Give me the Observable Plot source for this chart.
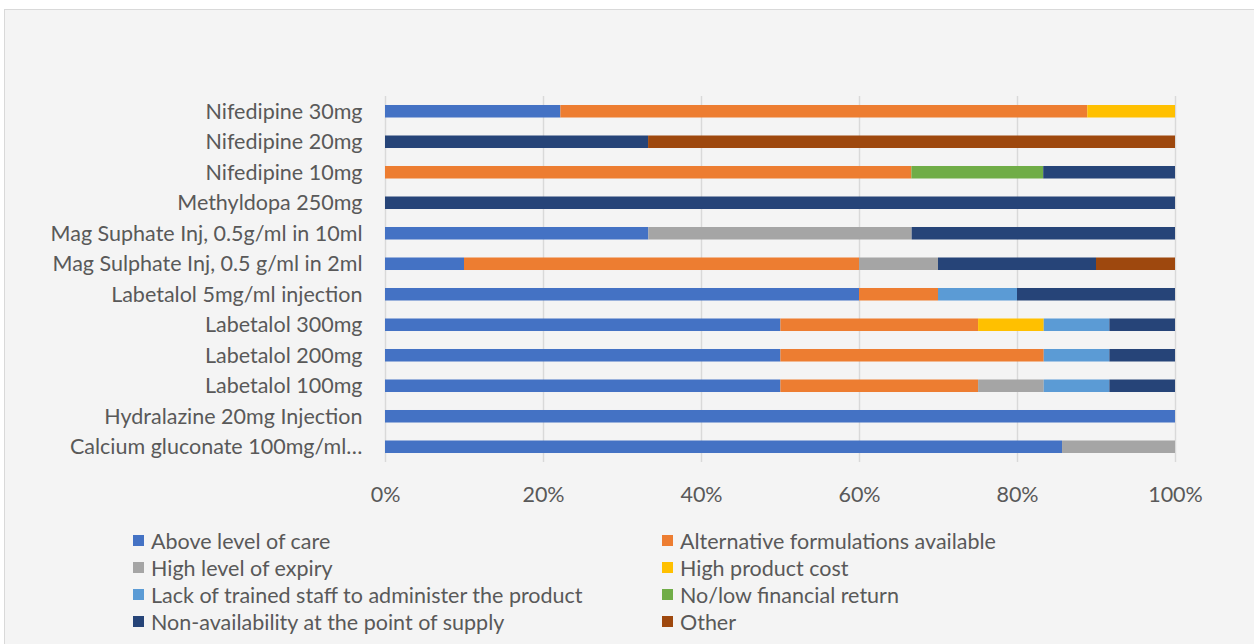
<!DOCTYPE html>
<html>
<head>
<meta charset="utf-8">
<script src="https://cdn.jsdelivr.net/npm/d3@7"></script>
<script src="https://cdn.jsdelivr.net/npm/@observablehq/plot@0.6"></script>
<style>
  html, body { margin: 0; padding: 0; background: #ffffff; }
  body { width: 1254px; height: 644px; overflow: hidden; position: relative; font-family: Lato, "Open Sans", sans-serif; }
  #panel { position: absolute; left: 4px; top: 9px; width: 1300px; height: 700px; background: #f4f4f4; border: 1px solid #d9d9d9; box-sizing: border-box; }
  #chart { position: absolute; left: 0; top: 0; }
  #legend { position: absolute; left: 133px; top: 527px; display: grid; grid-template-columns: 529px auto; grid-auto-rows: 27px; color: #595959; font-size: 21.5px; }
  .item { display: flex; align-items: center; white-space: nowrap; }
  .sw { width: 11px; height: 11px; margin-right: 7px; flex: none; }
</style>
</head>
<body>
<div id="panel"></div>
<div id="chart"></div>
<div id="legend"></div>
<script>
// Medicines, listed top to bottom
const categories = [
  "Nifedipine 30mg",
  "Nifedipine 20mg",
  "Nifedipine 10mg",
  "Methyldopa 250mg",
  "Mag Suphate Inj, 0.5g/ml in 10ml",
  "Mag Sulphate Inj, 0.5 g/ml in 2ml",
  "Labetalol 5mg/ml injection",
  "Labetalol 300mg",
  "Labetalol 200mg",
  "Labetalol 100mg",
  "Hydralazine 20mg Injection",
  "Calcium gluconate 100mg/ml…"
];

// Reasons (series) and their colours
const reasons = [
  "Above level of care",
  "Alternative formulations available",
  "High level of expiry",
  "High product cost",
  "Lack of trained staff to administer the product",
  "No/low financial return",
  "Non-availability at the point of supply",
  "Other"
];
const colors = ["#4472C4", "#ED7D31", "#A5A5A5", "#FFC000", "#5B9BD5", "#70AD47", "#264478", "#9E480E"];

// Share (%) of each reason per medicine, in category order
const aboveLevel   = [22.2, 0, 0, 0, 33.3, 10, 60, 50, 50, 50, 100, 85.7];
const alternatives = [66.7, 0, 66.7, 0, 0, 50, 10, 25, 33.3, 25, 0, 0];
const expiry       = [0, 0, 0, 0, 33.3, 10, 0, 0, 0, 8.3, 0, 14.3];
const productCost  = [11.1, 0, 0, 0, 0, 0, 0, 8.3, 0, 0, 0, 0];
const lackStaff    = [0, 0, 0, 0, 0, 0, 10, 8.3, 8.3, 8.3, 0, 0];
const financial    = [0, 0, 16.7, 0, 0, 0, 0, 0, 0, 0, 0, 0];
const nonAvail     = [0, 33.3, 16.7, 100, 33.3, 20, 20, 8.3, 8.3, 8.3, 0, 0];
const other        = [0, 66.7, 0, 0, 0, 10, 0, 0, 0, 0, 0, 0];

const xTicks = [0, 0.2, 0.4, 0.6, 0.8, 1];

const series = [aboveLevel, alternatives, expiry, productCost, lackStaff, financial, nonAvail, other];
const rows = [];
categories.forEach((c, i) => {
  series.forEach((s, j) => {
    if (s[i] > 0) rows.push({ medicine: c, reason: reasons[j], value: s[i] });
  });
});

const chart = Plot.plot({
  width: 1254,
  height: 510,
  marginLeft: 385,
  marginRight: 79,
  marginTop: 96,
  marginBottom: 48,
  style: { background: "transparent", fontFamily: "Lato, 'Open Sans', sans-serif", fontSize: "21.5px", color: "#595959" },
  x: { domain: [0, 1], ticks: xTicks, tickFormat: d3.format(".0%"), label: null },
  y: { domain: categories, label: null, paddingInner: 0.59, paddingOuter: 0.295, round: false },
  color: { domain: reasons, range: colors },
  marks: [
    Plot.gridX(xTicks, { stroke: "#d9d9d9", strokeOpacity: 1, strokeWidth: 1.5 }),
    Plot.barX(rows, Plot.stackX({
      x: "value", y: "medicine", fill: "reason", order: reasons, offset: "normalize"
    })),
    Plot.axisX(xTicks, { tickSize: 0, tickPadding: 24, tickFormat: d3.format(".0%"), fill: "#595959", label: null }),
    Plot.axisY({ tickSize: 0, tickPadding: 23, fill: "#595959", label: null })
  ]
});
document.getElementById("chart").appendChild(chart);

const legend = document.getElementById("legend");
reasons.forEach((r, i) => {
  const item = document.createElement("div");
  item.className = "item";
  const sw = document.createElement("span");
  sw.className = "sw";
  sw.style.background = colors[i];
  const t = document.createElement("span");
  t.textContent = r;
  item.appendChild(sw);
  item.appendChild(t);
  legend.appendChild(item);
});
</script>
</body>
</html>
